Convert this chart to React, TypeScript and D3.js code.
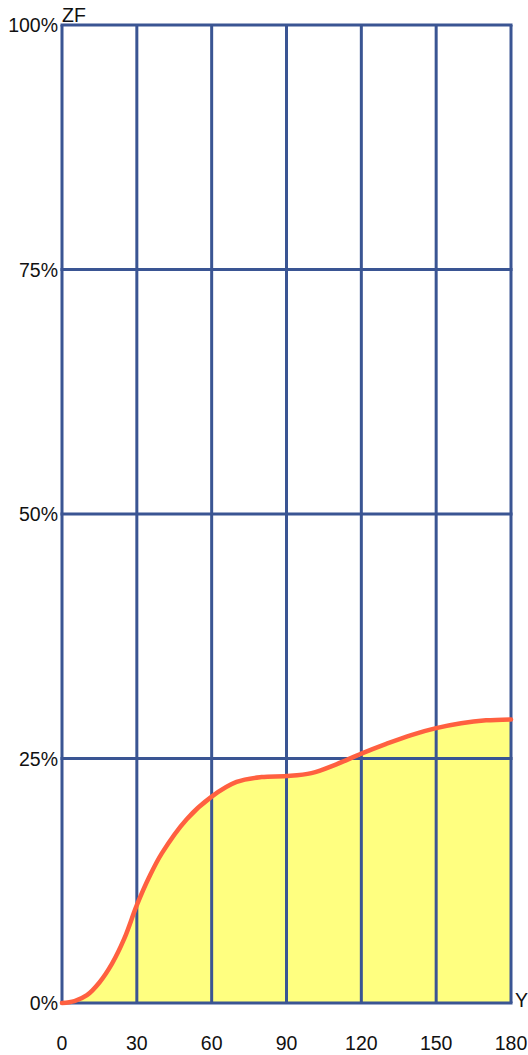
import React from "react";
import * as d3 from "d3";

const xValues = [0, 5, 10, 15, 20, 25, 30, 35, 40, 50, 60, 70, 80, 90, 100, 110, 120, 130, 140, 150, 160, 170, 180];
const yValues = [0, 0.2, 0.8, 2.1, 4.0, 6.6, 10.0, 12.9, 15.3, 18.8, 21.1, 22.6, 23.1, 23.2, 23.5, 24.4, 25.5, 26.5, 27.4, 28.1, 28.6, 28.9, 29.0];
const xTicks = [0, 30, 60, 90, 120, 150, 180];
const yTicks = [0, 25, 50, 75, 100];
const xAxisName = "Y";
const yAxisName = "ZF";

export default function App() {
  const W = 528, H = 1055;
  const left = 62, right = 511, top = 25, bottom = 1003;
  const x = d3.scaleLinear().domain([0, 180]).range([left, right]);
  const y = d3.scaleLinear().domain([0, 100]).range([bottom, top]);
  const data = xValues.map((v, i) => ({ x: v, y: yValues[i] }));
  const curve = d3.curveCatmullRom.alpha(0.5);
  const line = d3.line<{ x: number; y: number }>().x(d => x(d.x)).y(d => y(d.y)).curve(curve);
  const area = d3.area<{ x: number; y: number }>().x(d => x(d.x)).y0(y(0)).y1(d => y(d.y)).curve(curve);
  const grid = "#3a5593";
  const font = "Arial, 'Liberation Sans', Helvetica, sans-serif";
  const fs = 19.5;
  return (
    <svg width={W} height={H} style={{ position: "absolute", left: 0, top: 0 }} fontFamily={font}>
      <rect width={W} height={H} fill="#fff" />
      <path d={area(data) || ""} fill="#ffff80" />
      {xTicks.map(t => (
        <line key={"vx" + t} x1={x(t)} x2={x(t)} y1={top} y2={bottom} stroke={grid} strokeWidth={3} />
      ))}
      {yTicks.map(t => (
        <line key={"hy" + t} x1={left - 1.5} x2={right + 1.5} y1={y(t)} y2={y(t)} stroke={grid} strokeWidth={3} />
      ))}
      <path d={line(data) || ""} fill="none" stroke="#ff6040" strokeWidth={4.5} strokeLinecap="round" />
      {yTicks.map(t => (
        <text key={"yl" + t} x={left - 4} y={y(t)} dy="0.36em" textAnchor="end" fontSize={fs} fill="#111">{t + "%"}</text>
      ))}
      {xTicks.map(t => (
        <text key={"xl" + t} x={x(t)} y={1050} textAnchor="middle" fontSize={fs} fill="#111">{t}</text>
      ))}
      <text x={left} y={15} dy="0.36em" fontSize={fs} fill="#111">{yAxisName}</text>
      <text x={515} y={1000} dy="0.36em" fontSize={fs} fill="#111">{xAxisName}</text>
    </svg>
  );
}
